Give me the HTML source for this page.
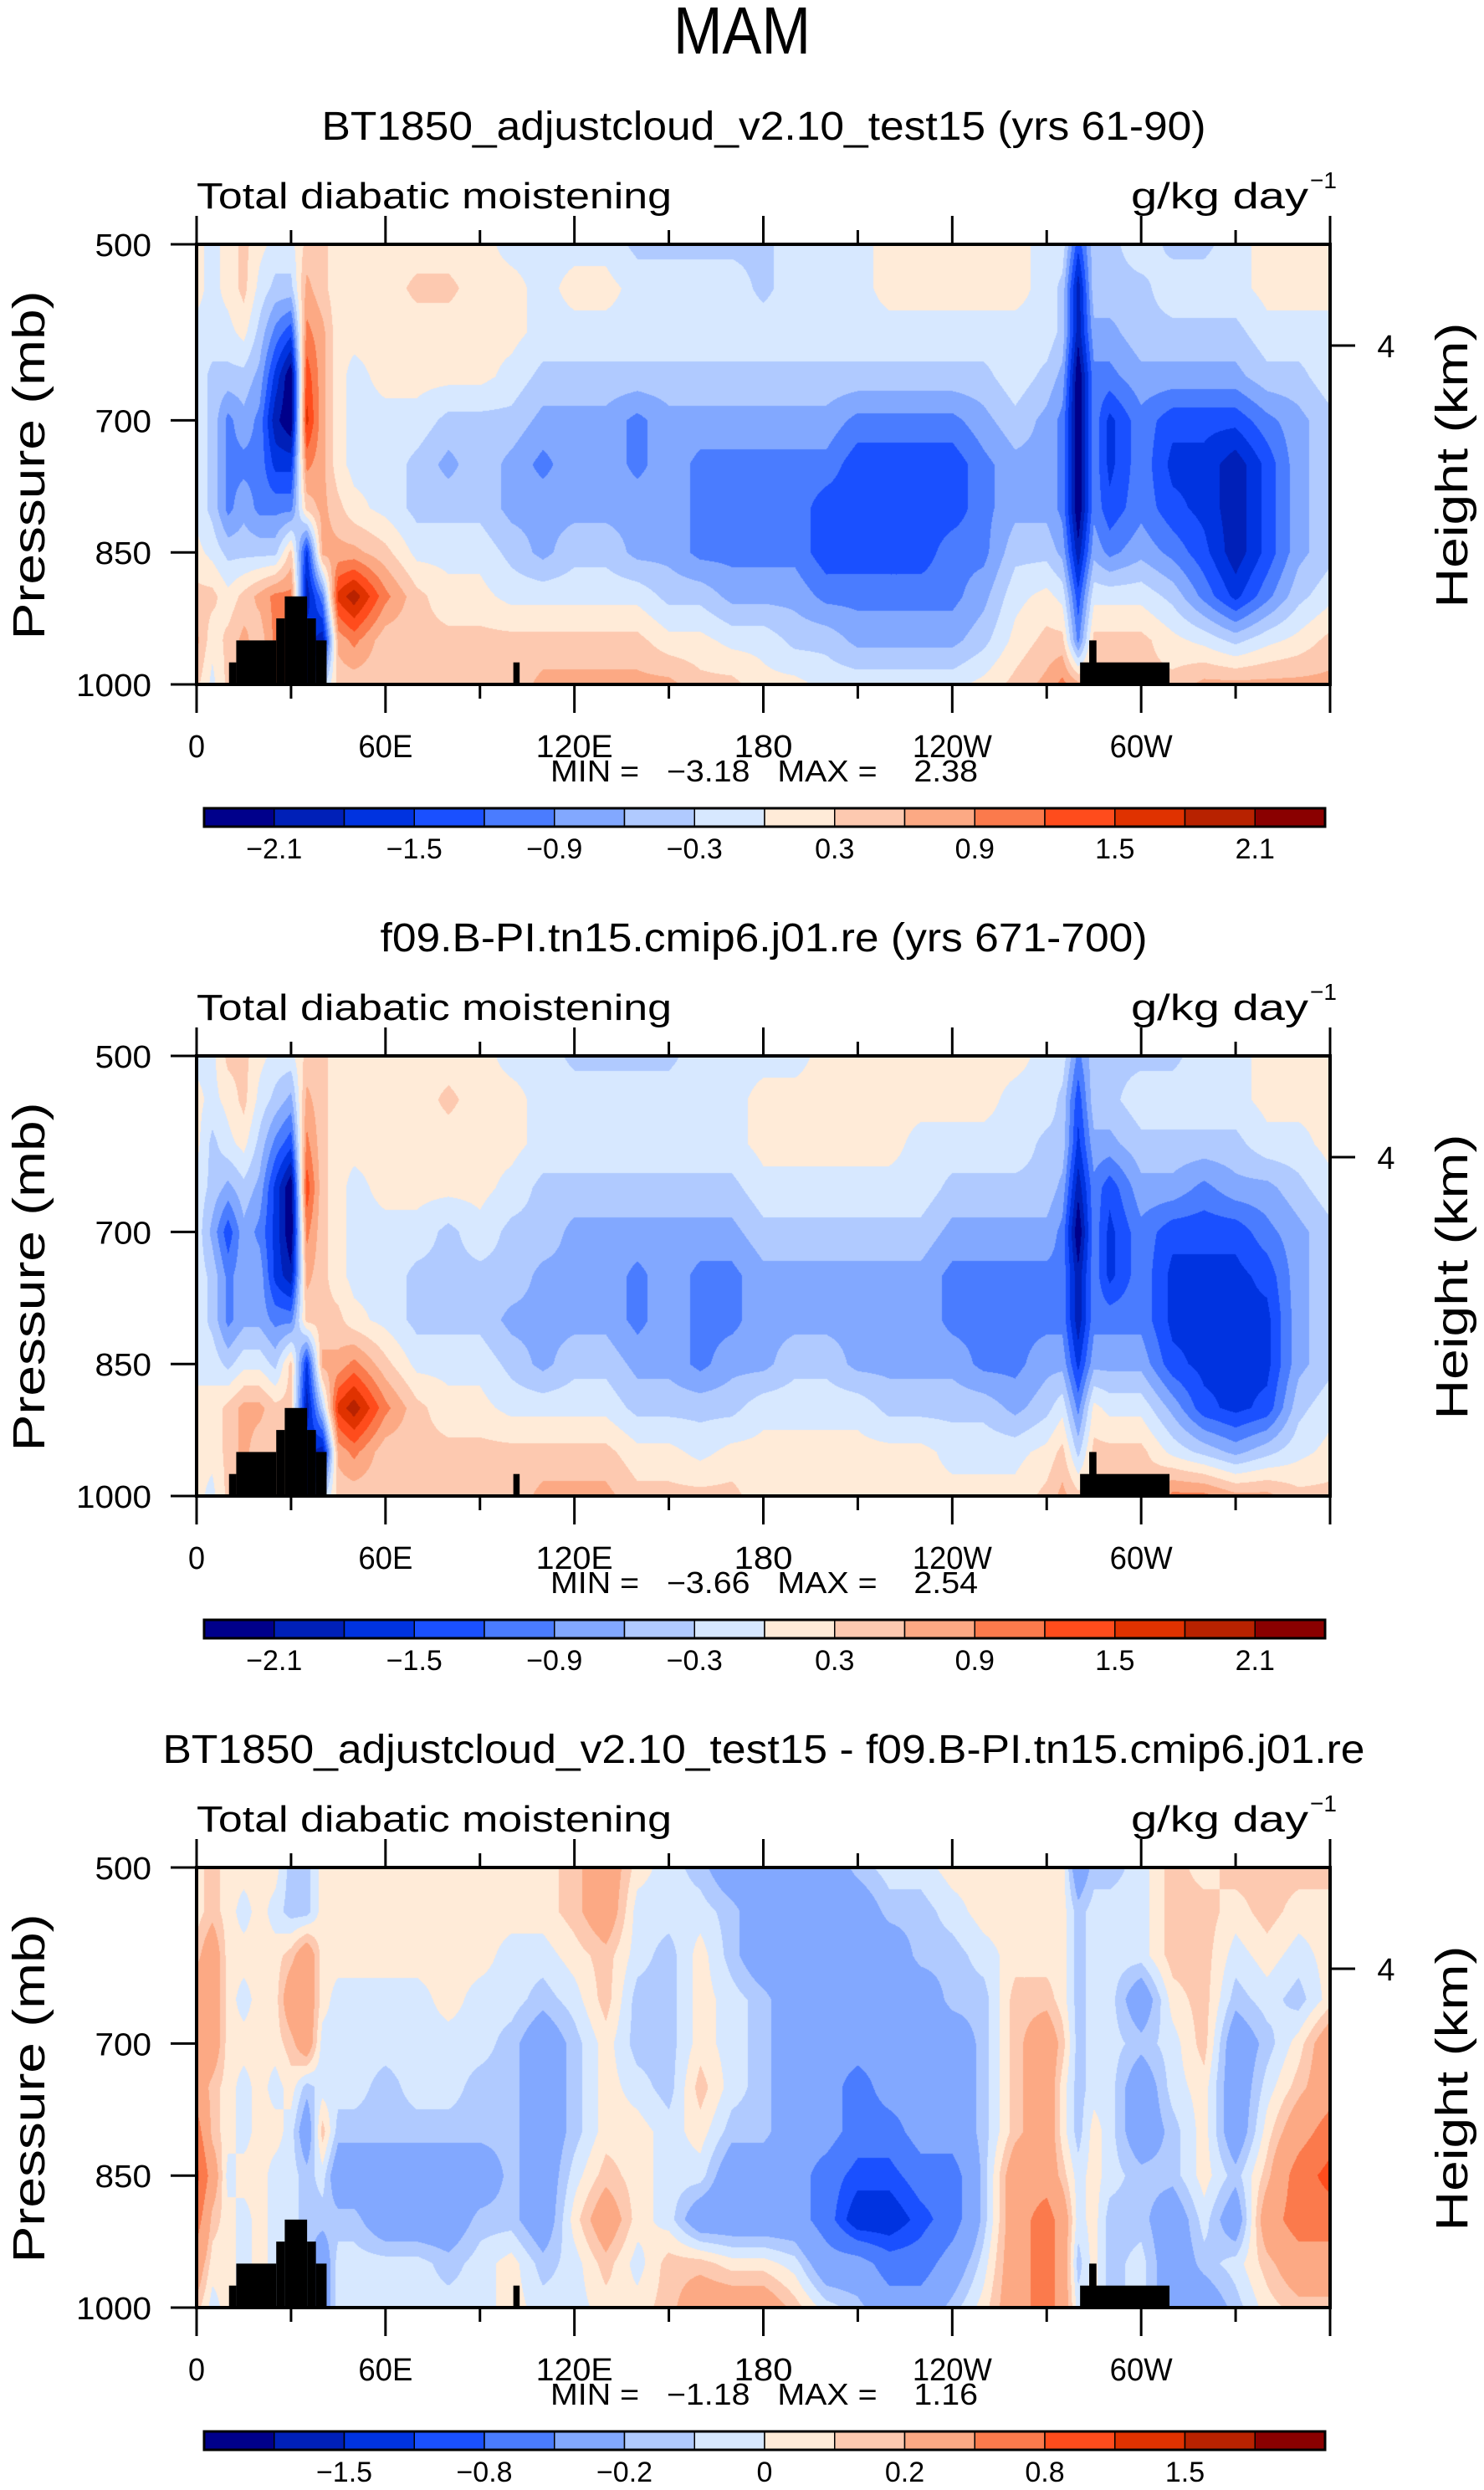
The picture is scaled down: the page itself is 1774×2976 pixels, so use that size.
<!DOCTYPE html>
<html>
<head>
<meta charset="utf-8">
<style>
  html,body{margin:0;padding:0;background:#fff;}
  body{width:1774px;height:2976px;position:relative;overflow:hidden;font-family:"Liberation Sans",sans-serif;}
  canvas{position:absolute;}
  #overlay{position:absolute;left:0;top:0;}
</style>
</head>
<body>
<canvas id="c0" width="1355" height="526" style="left:235px;top:292px"></canvas>
<canvas id="c1" width="1355" height="526" style="left:235px;top:1262px"></canvas>
<canvas id="c2" width="1355" height="526" style="left:235px;top:2232px"></canvas>
<svg id="overlay" width="1774" height="2976" xmlns="http://www.w3.org/2000/svg"></svg>
<script>
// ---------------- DATA ----------------
const lons = [0,5,10,15,20,25,30,35,40,45,50,60,70,80,90,100,110,120,130,140,150,160,170,180,190,200,210,220,230,240,250,260,270,275,280,285,290,300,310,320,330,340,350,360];
const pressureLevels = [500,550,600,650,700,750,800,850,900,950,1000];
// each inner array = one longitude column, values from 500 mb down to 1000 mb
const fieldControl = [
[0.1,0.1,-0.1,-0.1,-0.1,-0.1,-0.1,0.1,0.4,0.7,0.4],
[-0.1,-0.1,-0.1,-0.4,-0.4,-0.4,-0.4,-0.1,0.4,0.1,-0.1],
[0.1,0.1,-0.1,-0.4,-1.0,-1.0,-1.0,-0.4,0.1,0.4,0.4],
[0.4,0.4,0.1,-0.4,-0.7,-1.0,-0.7,-0.4,0.4,0.7,0.7],
[0.1,-0.1,-0.4,-0.7,-1.0,-1.0,-1.0,-0.4,0.7,0.4,0.4],
[-0.1,-0.4,-1.0,-1.6,-2.0,-1.6,-1.0,-0.4,1.0,1.0,1.0],
[-0.1,-0.4,-1.4,-2.4,-2.4,-1.6,-1.0,0.4,1.0,1.0,1.0],
[0.4,0.7,1.0,1.4,1.6,1.0,0.4,-1.6,-2.0,-1.6,-1.6],
[0.4,0.4,0.7,0.7,0.7,0.7,0.7,0.7,-1.0,-2.0,-0.4],
[0.1,0.1,0.1,0.1,0.1,0.1,0.4,0.7,1.6,0.7,0.4],
[0.1,0.1,0.1,-0.1,-0.1,-0.1,0.1,0.7,2.0,1.0,0.4],
[0.1,0.1,0.1,0.1,-0.1,-0.1,-0.1,0.4,1.0,0.4,0.4],
[0.1,0.4,0.1,0.1,-0.1,-0.4,-0.4,-0.1,0.4,0.4,0.4],
[0.1,0.4,0.1,0.1,-0.4,-0.7,-0.4,-0.1,0.1,0.4,0.4],
[0.1,0.1,0.1,0.1,-0.4,-0.4,-0.4,-0.1,0.1,0.4,0.4],
[-0.1,0.1,0.1,-0.1,-0.4,-0.7,-0.7,-0.4,-0.1,0.4,0.4],
[-0.1,-0.1,-0.1,-0.4,-0.7,-1.0,-0.7,-0.7,-0.1,0.4,0.7],
[-0.1,0.1,-0.1,-0.4,-0.7,-0.7,-0.7,-0.4,-0.1,0.4,0.7],
[-0.1,0.1,-0.1,-0.4,-0.7,-0.7,-0.7,-0.4,-0.1,0.4,0.7],
[-0.4,-0.1,-0.1,-0.4,-1.0,-1.0,-0.7,-0.7,-0.1,0.4,0.7],
[-0.4,-0.1,-0.1,-0.4,-0.7,-0.7,-0.7,-0.7,-0.4,0.1,0.7],
[-0.4,-0.1,-0.1,-0.4,-0.7,-1.0,-1.0,-1.0,-0.4,0.1,0.4],
[-0.4,-0.1,-0.1,-0.4,-0.7,-1.0,-1.0,-1.0,-0.7,-0.1,0.4],
[-0.4,-0.4,-0.1,-0.4,-0.7,-1.0,-1.0,-1.0,-0.7,-0.1,0.1],
[-0.1,-0.1,-0.1,-0.4,-0.7,-1.0,-1.0,-1.0,-0.7,-0.4,0.1],
[-0.1,-0.1,-0.1,-0.4,-0.7,-1.0,-1.4,-1.4,-1.0,-0.4,-0.1],
[-0.1,-0.1,-0.1,-0.4,-1.0,-1.4,-1.4,-1.4,-1.0,-0.7,-0.1],
[0.1,0.1,-0.1,-0.4,-1.0,-1.4,-1.4,-1.4,-1.0,-0.7,-0.1],
[0.1,0.1,-0.1,-0.4,-1.0,-1.4,-1.4,-1.4,-1.0,-0.7,-0.1],
[0.1,0.1,-0.1,-0.4,-1.0,-1.4,-1.4,-1.0,-1.0,-0.7,-0.1],
[0.1,0.1,-0.1,-0.4,-0.7,-1.0,-1.0,-1.0,-0.7,-0.4,0.1],
[0.1,0.1,-0.1,-0.1,-0.4,-0.7,-0.7,-0.4,-0.1,0.1,0.4],
[-0.1,-0.1,-0.1,-0.4,-0.7,-0.7,-0.7,-0.4,0.1,0.4,0.7],
[-0.1,-0.4,-0.4,-0.7,-1.0,-1.0,-1.0,-0.7,-0.1,0.4,1.0],
[-1.4,-2.0,-2.0,-2.4,-2.4,-2.4,-2.4,-2.0,-1.4,-1.0,0.7],
[-0.4,-0.4,-0.7,-1.0,-1.0,-1.0,-1.0,-0.7,-0.1,0.4,0.4],
[-0.4,-0.4,-0.7,-1.0,-1.6,-1.6,-1.4,-1.0,-0.1,0.4,0.4],
[-0.1,-0.4,-0.4,-0.7,-1.0,-1.0,-1.0,-0.7,-0.1,0.4,0.4],
[-0.4,-0.1,-0.4,-0.7,-1.4,-1.6,-1.4,-1.0,-0.4,0.1,0.4],
[-0.4,-0.1,-0.4,-0.7,-1.4,-1.6,-1.6,-1.4,-1.0,-0.1,0.7],
[-0.1,-0.1,-0.4,-0.7,-1.4,-2.0,-2.0,-2.0,-1.6,-0.4,0.7],
[0.1,0.1,-0.1,-0.4,-1.0,-1.4,-1.4,-1.4,-1.0,-0.1,0.7],
[0.1,0.1,-0.1,-0.4,-0.7,-0.7,-0.7,-0.7,-0.4,0.1,0.7],
[0.1,0.1,-0.1,-0.1,-0.4,-0.4,-0.4,-0.4,-0.1,0.4,0.7]
];
const fieldTest = [
[-0.1,0.1,0.1,-0.1,-0.1,-0.1,-0.1,-0.1,0.1,0.1,0.1],
[-0.1,-0.1,-0.4,-0.4,-0.7,-0.4,-0.4,-0.1,0.1,0.1,-0.1],
[0.4,0.1,-0.1,-0.7,-1.4,-1.0,-1.0,-0.4,0.4,0.4,0.4],
[0.4,0.4,0.1,-0.4,-0.7,-0.7,-0.7,-0.1,0.7,0.7,0.7],
[0.1,-0.1,-0.4,-0.7,-1.0,-0.7,-0.7,-0.1,0.7,0.4,0.4],
[-0.1,-0.4,-1.0,-1.6,-1.6,-1.6,-1.0,-0.4,0.4,0.4,0.4],
[-0.1,-0.7,-1.4,-2.4,-2.4,-2.0,-1.0,0.4,0.4,0.4,0.4],
[0.4,0.7,1.0,1.4,1.0,0.7,0.4,-1.6,-2.0,-1.6,-1.6],
[0.4,0.4,0.4,0.4,0.4,0.4,0.4,0.7,-0.4,-2.0,-0.4],
[0.1,0.1,0.1,0.1,0.1,0.1,0.4,0.7,1.6,0.7,0.4],
[0.1,0.1,0.1,-0.1,-0.1,-0.1,0.1,1.0,2.0,1.0,0.4],
[0.1,0.1,0.1,0.1,-0.1,-0.1,-0.1,0.4,1.0,0.4,0.4],
[0.1,0.1,0.1,0.1,-0.1,-0.4,-0.4,-0.1,0.4,0.4,0.4],
[0.1,0.4,0.1,0.1,-0.4,-0.4,-0.4,-0.1,0.1,0.4,0.4],
[0.1,0.1,0.1,0.1,-0.1,-0.4,-0.4,-0.1,0.1,0.4,0.4],
[-0.1,0.1,0.1,-0.1,-0.4,-0.4,-0.7,-0.4,-0.1,0.4,0.4],
[-0.1,-0.1,-0.1,-0.4,-0.4,-0.7,-0.7,-0.7,-0.1,0.4,0.7],
[-0.4,-0.1,-0.1,-0.4,-0.7,-0.7,-0.7,-0.4,-0.1,0.4,0.7],
[-0.4,-0.1,-0.1,-0.4,-0.7,-0.7,-0.7,-0.4,-0.1,0.4,0.7],
[-0.4,-0.1,-0.1,-0.4,-0.7,-1.0,-1.0,-0.7,-0.4,0.1,0.4],
[-0.4,-0.1,-0.1,-0.4,-0.7,-0.7,-0.7,-0.7,-0.4,0.1,0.4],
[-0.1,-0.1,-0.1,-0.4,-0.7,-1.0,-1.0,-1.0,-0.4,-0.1,0.4],
[-0.1,-0.1,-0.1,-0.4,-0.7,-1.0,-1.0,-0.7,-0.4,0.1,0.4],
[-0.1,0.1,0.1,-0.1,-0.4,-0.7,-0.7,-0.7,-0.1,0.1,0.1],
[-0.1,0.1,0.1,-0.1,-0.4,-0.7,-0.7,-0.4,-0.1,0.1,0.1],
[0.1,0.1,0.1,-0.1,-0.4,-0.7,-0.7,-0.4,-0.1,0.1,0.1],
[0.1,0.1,0.1,-0.1,-0.4,-0.7,-0.7,-0.7,-0.1,0.1,0.1],
[0.1,0.1,0.1,-0.1,-0.4,-0.7,-0.7,-0.7,-0.4,0.1,0.1],
[0.1,0.1,-0.1,-0.1,-0.4,-0.7,-0.7,-0.7,-0.4,0.1,0.1],
[0.1,0.1,-0.1,-0.4,-0.7,-1.0,-1.0,-0.7,-0.4,-0.1,0.1],
[0.1,0.1,-0.1,-0.4,-0.7,-1.0,-1.0,-1.0,-0.4,-0.1,0.1],
[0.1,-0.1,-0.1,-0.4,-0.7,-1.0,-1.0,-1.0,-0.7,-0.1,0.1],
[-0.1,-0.1,-0.4,-0.4,-0.7,-1.0,-1.0,-0.7,-0.4,0.1,0.4],
[-0.1,-0.4,-0.4,-0.7,-1.0,-1.0,-1.0,-0.7,-0.1,0.4,0.7],
[-1.0,-1.4,-1.6,-2.0,-2.4,-2.0,-2.0,-1.6,-1.0,-0.4,0.4],
[-0.4,-0.4,-0.7,-1.0,-1.0,-1.0,-1.0,-0.7,0.1,0.4,0.4],
[-0.4,-0.4,-0.7,-1.4,-1.6,-1.6,-1.0,-0.7,-0.1,0.4,0.4],
[-0.4,-0.1,-0.4,-0.7,-1.0,-1.0,-1.0,-0.7,-0.1,0.4,0.4],
[-0.4,-0.1,-0.4,-0.7,-1.4,-1.6,-1.6,-1.4,-0.7,-0.1,1.0],
[-0.1,-0.1,-0.4,-1.0,-1.4,-1.6,-1.6,-1.6,-1.4,-0.4,1.0],
[-0.1,-0.1,-0.4,-0.7,-1.4,-1.6,-1.6,-1.6,-1.6,-0.7,0.7],
[0.1,0.1,-0.1,-0.7,-1.0,-1.4,-1.6,-1.6,-1.4,-0.4,0.7],
[0.1,0.1,-0.1,-0.4,-0.7,-0.7,-0.7,-0.7,-0.4,-0.1,0.4],
[0.1,0.1,0.1,-0.1,-0.4,-0.4,-0.4,-0.4,-0.1,0.1,0.4]
];
const fieldDiff = [
[0.05,0.05,0.15,0.35,0.35,0.35,0.65,0.9,0.65,0.35,0.15],
[0.15,0.15,0.35,0.35,0.35,0.15,0.15,0.35,0.15,0.05,-0.05],
[0.05,0.05,0.05,0.05,0.05,0.05,0.05,-0.05,0.05,0.05,0.05],
[0.05,-0.05,0.05,-0.05,0.05,-0.05,-0.05,0.05,-0.05,-0.05,-0.05],
[0.05,0.05,0.05,0.05,0.05,0.05,0.05,0.05,0.05,0.05,0.05],
[0.05,-0.05,0.05,0.05,0.05,-0.05,0.05,-0.05,-0.05,-0.05,-0.05],
[-0.15,-0.15,0.15,0.35,0.15,0.05,-0.05,-0.05,-0.05,-0.05,-0.05],
[-0.15,-0.15,0.35,0.35,0.35,-0.15,-0.35,-0.15,-0.15,-0.15,-0.15],
[0.05,0.05,0.05,0.05,-0.05,-0.05,0.15,-0.05,-0.15,-0.35,-0.35],
[0.05,0.05,0.05,-0.05,-0.05,-0.05,-0.15,-0.35,-0.15,-0.05,-0.05],
[0.05,0.05,0.05,-0.05,-0.05,-0.05,-0.15,-0.35,-0.15,-0.05,-0.05],
[0.05,0.05,0.05,-0.05,-0.05,-0.15,-0.15,-0.35,-0.35,-0.05,-0.05],
[0.05,0.05,0.05,-0.05,-0.05,-0.05,-0.15,-0.35,-0.35,-0.05,-0.05],
[0.05,0.05,0.05,0.05,-0.05,-0.05,-0.15,-0.35,-0.35,-0.15,-0.05],
[0.05,0.05,0.05,-0.05,-0.05,-0.15,-0.15,-0.35,-0.15,-0.05,-0.05],
[0.05,0.05,-0.05,-0.05,-0.15,-0.15,-0.15,-0.15,-0.15,0.05,0.05],
[0.05,0.05,-0.05,-0.15,-0.35,-0.35,-0.35,-0.35,-0.35,-0.15,-0.05],
[0.15,0.15,0.05,-0.05,-0.15,-0.15,-0.15,-0.05,0.05,-0.05,-0.05],
[0.35,0.35,0.15,0.15,0.05,0.05,0.05,0.15,0.35,0.15,0.05],
[0.05,-0.05,-0.05,-0.15,-0.15,-0.05,0.05,0.05,0.05,-0.05,0.05],
[-0.05,-0.05,-0.15,-0.15,-0.15,-0.15,-0.05,-0.05,-0.05,0.15,0.15],
[-0.15,-0.05,0.05,0.05,0.05,0.15,0.05,-0.05,-0.35,0.15,0.35],
[-0.35,-0.15,-0.15,-0.05,-0.05,-0.05,-0.15,-0.35,-0.35,0.05,0.35],
[-0.35,-0.35,-0.35,-0.15,-0.15,-0.15,-0.15,-0.35,-0.35,0.05,0.35],
[-0.35,-0.35,-0.35,-0.35,-0.35,-0.35,-0.35,-0.35,-0.35,-0.05,0.15],
[-0.35,-0.35,-0.35,-0.35,-0.35,-0.35,-0.35,-0.65,-0.65,-0.35,-0.05],
[-0.15,-0.35,-0.35,-0.35,-0.35,-0.65,-0.65,-0.9,-1.2,-0.35,-0.15],
[-0.05,-0.15,-0.35,-0.35,-0.35,-0.35,-0.65,-0.9,-1.2,-0.65,-0.35],
[-0.05,-0.15,-0.15,-0.35,-0.35,-0.35,-0.35,-0.65,-0.9,-0.65,-0.35],
[0.05,-0.05,-0.15,-0.15,-0.35,-0.35,-0.35,-0.65,-0.65,-0.35,-0.15],
[0.05,0.05,-0.05,-0.15,-0.15,-0.15,-0.15,-0.15,-0.15,-0.05,0.05],
[0.05,0.05,0.05,0.15,0.15,0.15,0.15,0.35,0.35,0.35,0.35],
[0.05,0.05,0.05,0.15,0.35,0.35,0.35,0.35,0.65,0.65,0.65],
[0.05,0.05,0.05,0.05,0.15,0.05,0.05,0.15,0.35,0.35,0.35],
[-0.35,-0.15,-0.15,-0.15,-0.15,-0.15,-0.15,-0.05,-0.05,-0.15,-0.05],
[-0.15,-0.05,-0.05,-0.05,-0.05,-0.05,0.05,0.05,0.05,0.05,0.05],
[-0.15,-0.05,-0.05,-0.05,-0.05,-0.05,-0.05,-0.05,-0.15,-0.15,-0.15],
[-0.05,-0.05,-0.05,-0.35,-0.15,-0.35,-0.35,-0.15,-0.15,-0.05,-0.05],
[0.15,0.15,0.15,0.05,-0.05,-0.05,-0.15,-0.15,-0.35,-0.35,-0.35],
[0.05,0.15,0.15,0.15,0.15,0.05,0.05,0.05,-0.05,-0.15,-0.35],
[0.15,0.05,-0.05,-0.15,-0.35,-0.35,-0.35,-0.15,-0.35,-0.05,-0.15],
[0.15,0.15,0.05,-0.05,-0.15,-0.05,0.05,0.15,0.35,0.15,0.05],
[0.15,0.05,-0.05,-0.15,0.05,0.15,0.35,0.65,0.65,0.35,0.15],
[0.15,0.05,0.05,0.05,0.35,0.35,0.65,0.9,0.65,0.35,0.15]
];
const levelsAbs = [-2.1,-1.8,-1.5,-1.2,-0.9,-0.6,-0.3,0,0.3,0.6,0.9,1.2,1.5,1.8,2.1];
const levelsDiff = [-2,-1.5,-1,-0.8,-0.5,-0.2,-0.1,0,0.1,0.2,0.5,0.8,1,1.5,2];
const labelsAbs = ["−2.1","−1.5","−0.9","−0.3","0.3","0.9","1.5","2.1"];
const labelsDiff = ["−1.5","−0.8","−0.2","0","0.2","0.8","1.5"];
const colors = ["#00008b","#0020b8","#0033e0","#1a50ff","#4a7cff","#82a8ff","#b0caff","#d7e8ff","#ffebd8","#fdc9b0","#fca984","#fb7a4c","#ff4c1c","#e03200","#b82200","#8a0000"];
// topography: [lonStart, lonEnd, topPressure]
const topoLonStart = [10.3,12.6,25.3,28,35.1,37.9,100.6,280.6,283.5];
const topoLonEnd   = [12.6,25.3,28,35.1,37.9,41.3,102.6,309,285.8];
const topoTop      = [975,950,925,900,925,950,975,975,950];
const xTickLons = [0,60,120,180,240,300];
const xTickLabels = ["0","60E","120E","180","120W","60W"];
const xTickWidths = [20,65,92,70,95,75];
const yTickPs = [500,700,850,1000];
const yTickLabels = ["500","700","850","1000"];
const titles = ["BT1850_adjustcloud_v2.10_test15 (yrs 61-90)","f09.B-PI.tn15.cmip6.j01.re (yrs 671-700)","BT1850_adjustcloud_v2.10_test15 - f09.B-PI.tn15.cmip6.j01.re"];
const titleWidths = [1057,917,1437];
const minVals = ["−3.18","−3.66","−1.18"];
const maxVals = ["2.38","2.54","1.16"];

// ---------------- AXES ----------------
const L=235, W=1355, T0=292, H=526, PANEL_DY=970;
function xOf(lon){ return L + lon/360*W; }
function yOf(p, off){ return T0 + off + (p-500)/500*H; }

function interp(field, lon, p){
  let i=0; while(i<lons.length-2 && lon>lons[i+1]) i++;
  const tx=(lon-lons[i])/(lons[i+1]-lons[i]);
  let r=(p-500)/50; let j=Math.min(Math.floor(r),pressureLevels.length-2); const ty=r-j;
  const a=field[i][j], b=field[i+1][j], c=field[i][j+1], d=field[i+1][j+1];
  return (a*(1-tx)+b*tx)*(1-ty)+(c*(1-tx)+d*tx)*ty;
}
function hexRgb(h){return [parseInt(h.substr(1,2),16),parseInt(h.substr(3,2),16),parseInt(h.substr(5,2),16)];}
const rgb = colors.map(hexRgb);
function drawField(id, field, levels){
  const cv=document.getElementById(id), ctx=cv.getContext('2d');
  const img=ctx.createImageData(cv.width, cv.height);
  for(let y=0;y<cv.height;y++){
    const p=500+(y+0.5)/cv.height*500;
    for(let x=0;x<cv.width;x++){
      const lon=(x+0.5)/cv.width*360;
      const v=interp(field,lon,p);
      let k=0; while(k<levels.length && v>=levels[k]) k++;
      const c=rgb[k], o=(y*cv.width+x)*4;
      img.data[o]=c[0]; img.data[o+1]=c[1]; img.data[o+2]=c[2]; img.data[o+3]=255;
    }
  }
  ctx.putImageData(img,0,0);
}
drawField('c0', fieldControl, levelsAbs);
drawField('c1', fieldTest, levelsAbs);
drawField('c2', fieldDiff, levelsDiff);

const svg=document.getElementById('overlay');
const NS="http://www.w3.org/2000/svg";
function mk(tag, attrs, text){
  const e=document.createElementNS(NS,tag);
  for(const k in attrs) e.setAttribute(k, attrs[k]);
  if(text!==undefined) e.textContent=text;
  svg.appendChild(e); return e;
}
const FONT='"Liberation Sans", sans-serif';

let e = mk('text',{x:887,y:64,'text-anchor':'middle','font-family':FONT,'font-size':80,textLength:164,lengthAdjust:'spacingAndGlyphs'},'MAM');



for(let k=0;k<3;k++){
  const off=k*PANEL_DY;
  const t = mk('text',{x:913,y:167+off,'text-anchor':'middle','font-family':FONT,'font-size':48,textLength:titleWidths[k],lengthAdjust:'spacingAndGlyphs'},titles[k]);
  
  
  const vl = mk('text',{x:235,y:249+off,'font-family':FONT,'font-size':44,textLength:568,lengthAdjust:'spacingAndGlyphs'},'Total diabatic moistening');
  
  
  const ul = mk('text',{x:1352,y:249+off,'font-family':FONT,'font-size':44,textLength:212,lengthAdjust:'spacingAndGlyphs'},'g/kg day');
  
  
  const us = mk('text',{x:1566,y:225+off,'font-family':FONT,'font-size':28},'−1');
  
  

  for(let i=0;i<topoTop.length;i++){
    const r = mk('rect',{x:xOf(topoLonStart[i]),y:yOf(topoTop[i],off),width:xOf(topoLonEnd[i])-xOf(topoLonStart[i]),height:yOf(1000,off)-yOf(topoTop[i],off),fill:'#000'});
    
    
  }
  const fr = mk('rect',{x:L,y:T0+off,width:W,height:H,fill:'none',stroke:'#000','stroke-width':4});
  
  
  for(let lon=0; lon<=360; lon+=30){
    const major = lon%60===0;
    const len = major?34:17;
    const tb = mk('line',{x1:xOf(lon),x2:xOf(lon),y1:yOf(1000,off),y2:yOf(1000,off)+len,stroke:'#000','stroke-width':3});
    
    
    const tt = mk('line',{x1:xOf(lon),x2:xOf(lon),y1:yOf(500,off),y2:yOf(500,off)-len,stroke:'#000','stroke-width':3});
    
    
  }
  for(let i=0;i<xTickLons.length;i++){
    const xl = mk('text',{x:xOf(xTickLons[i]),y:905+off,'text-anchor':'middle','font-family':FONT,'font-size':38,textLength:xTickWidths[i],lengthAdjust:'spacingAndGlyphs'},xTickLabels[i]);
    
    
  }
  for(let i=0;i<yTickPs.length;i++){
    const yt = mk('line',{x1:204,x2:L,y1:yOf(yTickPs[i],off),y2:yOf(yTickPs[i],off),stroke:'#000','stroke-width':3});
    
    
    const yl = mk('text',{x:181,y:yOf(yTickPs[i],off)+14,'text-anchor':'end','font-family':FONT,'font-size':38,textLength:yTickLabels[i].length*22.5,lengthAdjust:'spacingAndGlyphs'},yTickLabels[i]);
    
    
  }
  const rt = mk('line',{x1:L+W,x2:L+W+30,y1:413+off,y2:413+off,stroke:'#000','stroke-width':3});
  
  
  const rl = mk('text',{x:1657,y:427+off,'text-anchor':'middle','font-family':FONT,'font-size':38},'4');
  
  
  const py = mk('text',{x:0,y:0,'text-anchor':'middle','dominant-baseline':'central','font-family':FONT,'font-size':54,textLength:417,lengthAdjust:'spacingAndGlyphs',transform:`translate(35,${556+off}) rotate(-90)`},'Pressure (mb)');
  
  
  const hy = mk('text',{x:0,y:0,'text-anchor':'middle','dominant-baseline':'central','font-family':FONT,'font-size':54,textLength:341,lengthAdjust:'spacingAndGlyphs',transform:`translate(1736,${556+off}) rotate(-90)`},'Height (km)');
  
  
  const mm = mk('text',{x:658,y:934+off,'font-family':FONT,'font-size':36,textLength:511,lengthAdjust:'spacingAndGlyphs',style:'white-space:pre'},'MIN =   '+minVals[k]+'   MAX =    '+maxVals[k]);
  
  

  const cbx=244, cbw=1340/16, cby=966+off, cbh=22;
  for(let c=0;c<16;c++){
    const box = mk('rect',{x:cbx+c*cbw,y:cby,width:cbw,height:cbh,fill:colors[c],stroke:'#000','stroke-width':1.5});
    
    
  }
  const cbf = mk('rect',{x:cbx,y:cby,width:1340,height:cbh,fill:'none',stroke:'#000','stroke-width':3});
  
  
  const labs = k<2?labelsAbs:labelsDiff;
  for(let i=0;i<labs.length;i++){
    const bIdx = k<2 ? 1+2*i : 2+2*i;
    const cl = mk('text',{x:cbx+bIdx*cbw,y:cby+cbh+38,'text-anchor':'middle','font-family':FONT,'font-size':34},labs[i]);
    
    
  }
}
</script>
</body>
</html>
